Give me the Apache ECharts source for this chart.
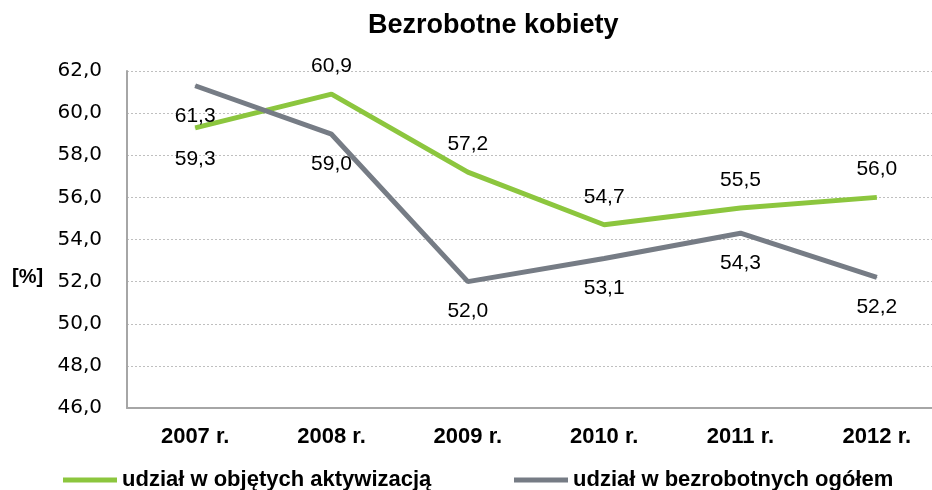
<!DOCTYPE html>
<html>
<head>
<meta charset="utf-8">
<script src="https://cdn.jsdelivr.net/npm/echarts@6/dist/echarts.min.js"></script>
<style>
  html, body { margin: 0; padding: 0; background: #fff; }
  #chart { width: 932px; height: 490px; }
</style>
</head>
<body>
<div id="chart"></div>
<script>
var years = ["2007 r.", "2008 r.", "2009 r.", "2010 r.", "2011 r.", "2012 r."];
var aktywizacja = [59.3, 60.9, 57.2, 54.7, 55.5, 56.0];
var ogolem = [61.3, 59.0, 52.0, 53.1, 54.3, 52.2];
var yTicks = [46, 48, 50, 52, 54, 56, 58, 60, 62];

function fmt(v) {
  return v.toFixed(1).replace(".", ",");
}

var chart = echarts.init(document.getElementById("chart"));

// green labels sit above the line except the first one
var greenData = aktywizacja.map(function(v, i) {
  return {
    value: v,
    label: i === 0 ? { position: "bottom", distance: 20 } : { position: "top" }
  };
});

var boldFont = "'Liberation Sans', Arial, sans-serif";

var option = {
  animation: false,
  title: {
    text: "Bezrobotne kobiety",
    left: 363,
    top: 7,
    textStyle: {
      fontFamily: boldFont,
      fontSize: 27,
      fontWeight: "bold",
      color: "#000"
    }
  },
  legend: [
    {
      data: ["udział w objętych aktywizacją"],
      left: 58,
      top: 464,
      icon: "rect",
      itemWidth: 54,
      itemHeight: 5,
      textStyle: {
        fontFamily: boldFont,
        fontSize: 22,
        fontWeight: "bold",
        color: "#000"
      }
    },
    {
      data: ["udział w bezrobotnych ogółem"],
      left: 509,
      top: 464,
      icon: "rect",
      itemWidth: 54,
      itemHeight: 5,
      textStyle: {
        fontFamily: boldFont,
        fontSize: 22,
        fontWeight: "bold",
        color: "#000"
      }
    }
  ],
  graphic: [
    {
      type: "text",
      left: 12,
      top: 267,
      style: {
        text: "[%]",
        font: "bold 20px 'Liberation Sans', Arial, sans-serif",
        fill: "#000"
      }
    }
  ],
  grid: {
    left: 127,
    width: 818,
    top: 71,
    bottom: 82,
    containLabel: false,
    outerBoundsMode: "none"
  },
  xAxis: {
    type: "category",
    data: years,
    boundaryGap: true,
    axisLine: { lineStyle: { color: "#a6a6a6", width: 2 } },
    axisTick: { show: false },
    axisLabel: {
      margin: 18,
      fontFamily: boldFont,
      fontSize: 22,
      fontWeight: "bold",
      color: "#000"
    }
  },
  yAxis: {
    type: "value",
    min: yTicks[0],
    max: yTicks[yTicks.length - 1],
    interval: 2,
    axisLine: { show: true, lineStyle: { color: "#a6a6a6", width: 2 } },
    axisTick: { show: false },
    axisLabel: {
      margin: 25,
      fontFamily: "'DejaVu Sans', Verdana, sans-serif",
      fontSize: 20,
      color: "#000",
      formatter: function(v) { return fmt(v); }
    },
    splitLine: {
      lineStyle: { color: "#bfbfbf", type: [2, 2], width: 1 }
    }
  },
  series: [
    {
      name: "udział w objętych aktywizacją",
      type: "line",
      data: greenData,
      symbol: "circle",
      symbolSize: 1,
      color: "#8cc63e",
      itemStyle: { color: "#8cc63e" },
      lineStyle: { color: "#8cc63e", width: 5 },
      label: {
        show: true,
        distance: 17,
        fontFamily: "'Liberation Sans', Arial, sans-serif",
        fontSize: 21,
        color: "#000",
        formatter: function(p) { return fmt(p.value); }
      },
      z: 2
    },
    {
      name: "udział w bezrobotnych ogółem",
      type: "line",
      data: ogolem,
      symbol: "circle",
      symbolSize: 1,
      color: "#767c85",
      itemStyle: { color: "#767c85" },
      lineStyle: { color: "#767c85", width: 5 },
      label: {
        show: true,
        position: "bottom",
        distance: 19,
        fontFamily: "'Liberation Sans', Arial, sans-serif",
        fontSize: 21,
        color: "#000",
        formatter: function(p) { return fmt(p.value); }
      },
      z: 3
    }
  ]
};

chart.setOption(option);
</script>
</body>
</html>
